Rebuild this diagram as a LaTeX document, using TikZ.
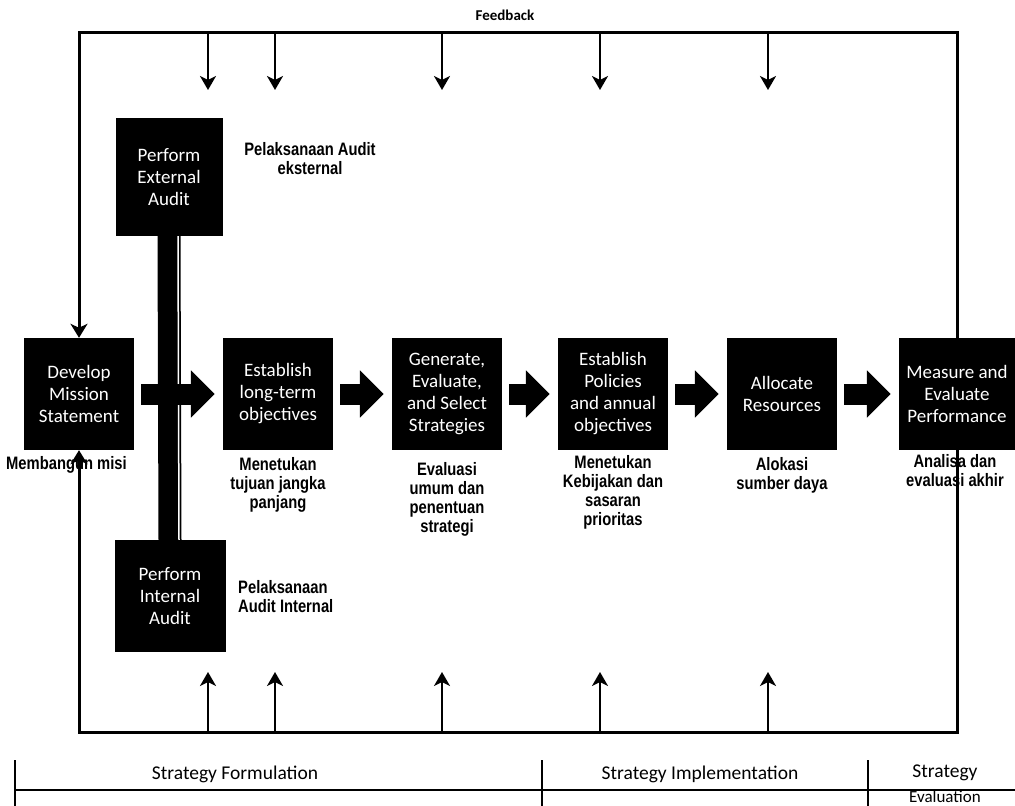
\documentclass[tikz,border=0pt]{standalone}
\usepackage{fontspec}
\setmainfont{Carlito}
\newfontfamily\lblfont[FakeStretch=0.82]{Liberation Sans}
\usetikzlibrary{arrows.meta}

\begin{document}
\begin{tikzpicture}[x=1pt,y=-1pt,
  stagebox/.style={fill=black,text=white,align=center,inner sep=0pt,
    minimum width=110pt,minimum height=112pt,font=\fontsize{19}{22}\selectfont},
  idlabel/.style={align=center,inner sep=0pt,anchor=north,
    font=\lblfont\bfseries\fontsize{18}{19}\selectfont},
  fatarrow/.style={line width=21pt,-{Triangle[length=24pt,width=46pt]},
    shorten <=7pt,shorten >=8pt},
  fbline/.style={line width=3pt},
  fbarrow/.style={line width=2.5pt,-{Stealth[length=14pt,width=16pt,inset=4pt]}},
  phase/.style={inner sep=0pt,font=\fontsize{19.5}{20}\selectfont}]
\fill[white] (0,0) rectangle (1015,806);
\useasboundingbox (0,0) rectangle (1015,806);

\node[font=\bfseries\fontsize{15}{16}\selectfont] (fb) at (505,15) {Feedback};

% stages
\node[stagebox] (dev) at (79,394) {Develop\\Mission\\Statement};
\node[stagebox,minimum height=118pt,minimum width=107pt] (ext) at (169,177) {Perform\\External\\Audit};
\node[stagebox,minimum width=111pt] (int) at (170,596) {Perform\\Internal\\Audit};
\node[stagebox] (est) at (278,394) {Establish\\long-term\\objectives};
\node[stagebox] (gen) at (447,394) {Generate,\\Evaluate,\\and Select\\Strategies};
\node[stagebox] (pol) at (613,394) {Establish\\Policies\\and annual\\objectives};
\node[stagebox] (alo) at (782,394) {Allocate\\Resources};
\node[stagebox,minimum width=116pt] (meas) at (957,394) {Measure and\\Evaluate\\Performance};

% audit bar
\draw[line width=23pt] (ext.south) -- (int.north);
\draw[white,line width=1.5pt] ([xshift=9pt]ext.south) -- ([xshift=9pt]int.north);

% flow
\draw[fatarrow] (dev) -- (est);
\draw[fatarrow] (est) -- (gen);
\draw[fatarrow] (gen) -- (pol);
\draw[fatarrow] (pol) -- (alo);
\draw[fatarrow] (alo) -- (meas);

% labels
\node[idlabel,anchor=west] (devlbl) at (6,465) {Membangun misi};
\node[idlabel] (estlbl) at (278,457) {Menetukan\\tujuan jangka\\panjang};
\node[idlabel] (genlbl) at (447,462) {Evaluasi\\umum dan\\penentuan\\strategi};
\node[idlabel] (pollbl) at (613,455) {Menetukan\\Kebijakan dan\\sasaran\\prioritas};
\node[idlabel] (alolbl) at (782,457) {Alokasi\\sumber daya};
\node[idlabel] (measlbl) at (955,454) {Analisa dan\\evaluasi akhir};
\node[idlabel,anchor=center] (extlbl) at (310,159) {Pelaksanaan Audit\\eksternal};
\node[idlabel,anchor=west,align=left] (intlbl) at (238,597) {Pelaksanaan\\Audit Internal};

% feedback loop
\coordinate (tl) at (79,32);
\coordinate (tr) at (957,32);
\coordinate (bl) at (79,732);
\coordinate (br) at (957,732);
\draw[fbline,-{Stealth[length=14pt,width=17pt,inset=4pt]}] (meas.north) -- (tr) -- (tl) -- (dev.north);
\draw[fbline,-{Stealth[length=14pt,width=17pt,inset=4pt]}] (meas.south) -- (br) -- (bl) -- (dev.south);
\foreach \x [count=\i] in {208,275,442,600,768} {
  \coordinate (top\i) at (\x,33);
  \coordinate (topend\i) at (\x,90);
  \draw[fbarrow] (top\i) -- (topend\i);
  \coordinate (bot\i) at (\x,731);
  \coordinate (botend\i) at (\x,672);
  \draw[fbarrow] (bot\i) -- (botend\i);
}

% phases
\coordinate (tabL) at (15,790);
\coordinate (tabR) at (1015,790);
\draw[line width=1.5pt] (tabL) -- (tabR);
\foreach \x in {15,542,868}
  \draw[line width=1.5pt] (\x,760) -- (\x,806);
\node[phase] (form) at (235,774) {Strategy Formulation};
\node[phase] (impl) at (700,774) {Strategy Implementation};
\node[phase] (evalp) at (945,773) {Strategy};
\node[phase,font=\fontsize{17}{18}\selectfont] (evalq) at (945,797) {Evaluation};
\end{tikzpicture}
\end{document}
